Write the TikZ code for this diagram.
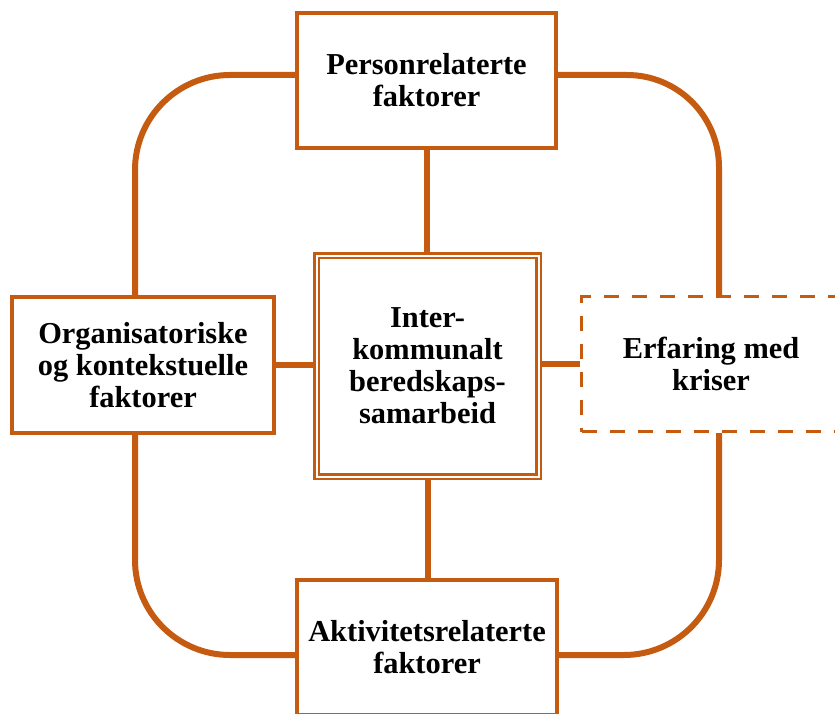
\documentclass[tikz,border=0pt]{standalone}
\usepackage{fontspec}
\setmainfont{Liberation Serif}
\usetikzlibrary{calc,backgrounds}
\definecolor{brn}{HTML}{C55A11}
\begin{document}
\begin{tikzpicture}[x=1pt,y=-1pt,
  box/.style={draw=brn, line width=3.5pt, fill=white, inner sep=0pt, align=center,
    font=\bfseries\fontsize{30.4}{32}\selectfont},
  dashbox/.style={box, line width=3pt, dash pattern=on 15pt off 13pt},
  centerbox/.style={box, line width=2.5pt, double=white, double distance=2pt},
  link/.style={draw=brn, line width=6pt},
]
\useasboundingbox (0,0) rectangle (835,714);
\clip (0,0) rectangle (835,714);

\node[box, minimum width=259pt, minimum height=135pt] (top) at (426.5,80.5) {Personrelaterte\\faktorer};
\node[box, minimum width=262pt, minimum height=136pt] (org) at (143,365) {Organisatoriske\\og kontekstuelle\\faktorer};
\node[box, minimum width=260pt, minimum height=135pt] (akt) at (427,647.5) {Aktivitetsrelaterte\\faktorer};
\node[dashbox, minimum width=259pt, minimum height=135pt] (erf) at (711,364) {Erfaring med\\kriser};
\node[centerbox, minimum width=222pt, minimum height=221pt] (ikb) at (427.5,366) {Inter-\\kommunalt\\beredskaps-\\samarbeid};

\begin{scope}[on background layer]
\draw[link] (top.south) -- (top.south |- ikb.north);
\draw[link] (ikb.south) -- (ikb.south |- akt.north);
\draw[link] (org.east) -- (org.east -| ikb.west);
\draw[link] (ikb.east |- erf.west) -- (erf.west);
\draw[link, rounded corners=95pt] ($(top.west)+(0,-5.5)$) -| ($(org.north)+(-8,0)$);
\draw[link, rounded corners=95pt] ($(org.south)+(-8,0)$) |- ($(akt.west)+(0,7.5)$);
\draw[link, rounded corners=92pt] ($(top.east)+(0,-5.5)$) -| ($(erf.north)+(8,0)$);
\draw[link, rounded corners=95pt] ($(erf.south)+(8,0)$) |- ($(akt.east)+(0,7.5)$);
\end{scope}
\end{tikzpicture}
\end{document}
